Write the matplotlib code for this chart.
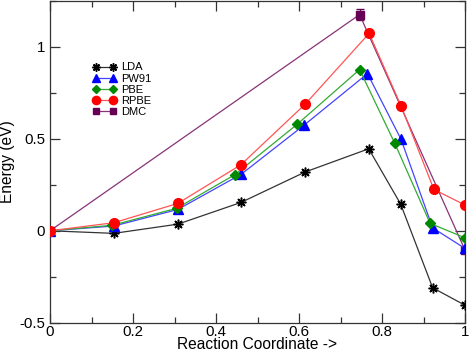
import matplotlib
matplotlib.use("Agg")
import matplotlib.pyplot as plt
from matplotlib.ticker import MultipleLocator, FuncFormatter

plt.rcParams['font.family'] = ['Liberation Sans', 'DejaVu Sans']

lda_x = [0, 0.154, 0.308, 0.460, 0.615, 0.768, 0.845, 0.922, 1.0]
lda_y = [0, -0.014, 0.036, 0.154, 0.320, 0.446, 0.145, -0.310, -0.405]

pw91_x = [0, 0.154, 0.308, 0.461, 0.613, 0.765, 0.846, 0.922, 1.0]
pw91_y = [0, 0.026, 0.116, 0.308, 0.576, 0.855, 0.497, 0.016, -0.096]

pbe_x = [0, 0.150, 0.305, 0.446, 0.596, 0.746, 0.831, 0.916, 1.0]
pbe_y = [0, 0.030, 0.122, 0.306, 0.580, 0.877, 0.475, 0.040, -0.038]

rpbe_x = [0, 0.154, 0.308, 0.460, 0.615, 0.769, 0.846, 0.925, 1.0]
rpbe_y = [0, 0.044, 0.149, 0.359, 0.689, 1.074, 0.679, 0.225, 0.140]

dmc_x = [0, 0.746, 1.0]
dmc_y = [0, 1.176, -0.105]
dmc_err = [0, 0.03, 0]

fig = plt.figure(figsize=(4.71, 3.55), dpi=100)
ax = fig.add_axes([50/471, 1-322.7/355, 415/471, 321.7/355])

ax.errorbar(dmc_x, dmc_y, yerr=dmc_err, fmt='none', ecolor='#660055',
            capsize=3, elinewidth=0.9, zorder=2)
ax.plot(dmc_x, dmc_y, color='#883377', lw=0.9, marker='s', ms=5.5,
        mfc='#660055', mec='#660055', label='DMC', zorder=2)
ax.plot(lda_x, lda_y, color='#333333', lw=0.9, marker=(8, 2, 0), ms=7, mew=1.1,
        mec='black', label='LDA', zorder=3)
ax.plot(pw91_x, pw91_y, color='#4444ff', lw=0.9, marker='^', ms=7.5, mfc='blue', mec='blue',
        label='PW91', zorder=3)
ax.plot(pbe_x, pbe_y, color='#33aa33', lw=0.9, marker='D', ms=5, mfc='#008800', mec='#008800',
        label='PBE', zorder=3)
ax.plot(rpbe_x, rpbe_y, color='#ff5555', lw=0.9, marker='o', ms=7, mfc='red', mec='red',
        label='RPBE', zorder=3)

ax.set_xlim(0, 1)
ax.set_ylim(-0.5, 1.25)
ax.xaxis.set_major_locator(MultipleLocator(0.2))
ax.xaxis.set_minor_locator(MultipleLocator(0.1))
ax.yaxis.set_major_locator(MultipleLocator(0.5))
ax.yaxis.set_minor_locator(MultipleLocator(0.25))
fmt = FuncFormatter(lambda v, p: ('%g' % round(v, 3)))
ax.xaxis.set_major_formatter(fmt)
ax.yaxis.set_major_formatter(fmt)
ax.tick_params(which='both', direction='in', top=True, right=True, labelsize=10.8, color='#333333')
ax.tick_params(which='major', length=7, width=0.9)
ax.tick_params(which='minor', length=4, width=0.9)
ax.tick_params(axis='x', pad=1.5)
ax.tick_params(axis='y', pad=3.5)
for s in ax.spines.values():
    s.set_color('#333333')
    s.set_linewidth(0.9)

ax.set_xlabel('Reaction Coordinate ->', fontsize=11.2, labelpad=-1)
ax.set_ylabel('Energy (eV)', fontsize=11.2, labelpad=3)

h, l = ax.get_legend_handles_labels()
order = ['LDA', 'PW91', 'PBE', 'RPBE', 'DMC']
hd = dict(zip(l, h))
leg = ax.legend([hd[k] for k in order], order, loc='upper left', frameon=False,
                bbox_to_anchor=(93/471, 1-62.5/355), bbox_transform=fig.transFigure,
                borderpad=0, borderaxespad=0, fontsize=8, numpoints=2, markerscale=0.85,
                handlelength=2.1, handletextpad=0.45, labelspacing=0.1)

fig.savefig('out.png', dpi=100)
